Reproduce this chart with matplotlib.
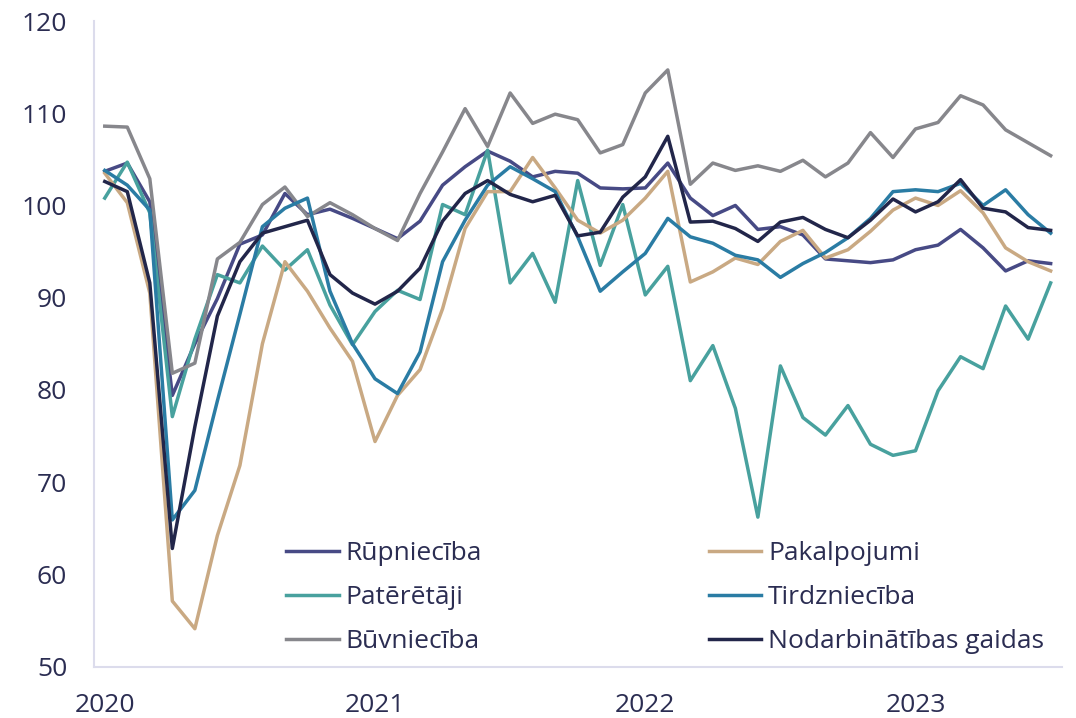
import numpy as np
import matplotlib.pyplot as plt

plt.rcParams['font.family'] = ['Open Sans', 'DejaVu Sans']

# monthly values, Jan 2020 - Jul 2023
rupnieciba = [103.7, 104.6, 100.4, 79.4, 85.0, 89.9, 95.8, 96.8, 101.3, 99.0,
              99.6, 98.6, 97.5, 96.4, 98.3, 102.2, 104.2, 105.9, 104.8, 103.1,
              103.7, 103.5, 101.9, 101.8, 101.9, 104.6, 100.8, 98.9, 100.0, 97.4,
              97.7, 96.8, 94.2, 94.0, 93.8, 94.1, 95.2, 95.7, 97.4, 95.4,
              92.9, 94.0, 93.7]
pakalpojumi = [103.5, 100.3, 90.5, 57.1, 54.1, 64.2, 71.8, 85.0, 93.9, 90.7,
               86.7, 83.1, 74.4, 79.4, 82.2, 88.8, 97.5, 101.5, 101.5, 105.2,
               101.9, 98.4, 97.0, 98.4, 100.8, 103.7, 91.7, 92.8, 94.3, 93.6,
               96.1, 97.3, 94.3, 95.2, 97.2, 99.5, 100.8, 100.0, 101.6, 99.2,
               95.4, 93.9, 92.9]
pateretaji = [100.8, 104.7, 99.2, 77.1, 85.5, 92.5, 91.6, 95.6, 93.0, 95.2,
              89.2, 84.9, 88.5, 90.8, 89.8, 100.1, 99.0, 106.0, 91.6, 94.8,
              89.5, 102.7, 93.5, 100.1, 90.3, 93.4, 81.0, 84.8, 78.0, 66.2,
              82.6, 77.0, 75.1, 78.3, 74.1, 72.9, 73.4, 79.9, 83.6, 82.3,
              89.1, 85.5, 91.6]
tirdznieciba = [103.8, 102.2, 99.5, 65.9, 69.1, 78.8, 88.2, 97.7, 99.7, 100.8,
                90.7, 85.0, 81.2, 79.6, 84.1, 93.9, 98.4, 102.2, 104.2, 102.9,
                101.5, 96.6, 90.7, 92.8, 94.8, 98.6, 96.6, 95.9, 94.6, 94.1,
                92.2, 93.7, 94.9, 96.5, 98.6, 101.5, 101.7, 101.5, 102.4, 100.0,
                101.7, 99.0, 97.0]
buvnieciba = [108.6, 108.5, 102.9, 81.8, 82.9, 94.2, 96.0, 100.1, 102.0, 98.8,
              100.3, 99.0, 97.5, 96.2, 101.3, 105.8, 110.5, 106.4, 112.2, 108.9,
              109.9, 109.3, 105.7, 106.6, 112.2, 114.7, 102.3, 104.6, 103.8, 104.3,
              103.7, 104.9, 103.1, 104.6, 107.9, 105.2, 108.3, 109.0, 111.9, 110.9,
              108.2, 106.8, 105.4]
nodarbinatiba = [102.6, 101.5, 91.6, 62.8, 76.0, 88.0, 93.9, 97.0, 97.7, 98.4,
                 92.5, 90.5, 89.3, 90.7, 93.2, 98.3, 101.3, 102.7, 101.2, 100.4,
                 101.1, 96.7, 97.1, 100.9, 103.1, 107.5, 98.2, 98.3, 97.5, 96.1,
                 98.2, 98.7, 97.4, 96.5, 98.4, 100.7, 99.3, 100.4, 102.8, 99.7,
                 99.3, 97.6, 97.3]

years = ['2020', '2021', '2022', '2023']

series = [
    ('Rūpniecība', rupnieciba, '#474a85'),
    ('Patērētāji', pateretaji, '#48a19e'),
    ('Būvniecība', buvnieciba, '#87878c'),
    ('Pakalpojumi', pakalpojumi, '#c9a983'),
    ('Tirdzniecība', tirdznieciba, '#2a7ca4'),
    ('Nodarbinātības gaidas', nodarbinatiba, '#22264a'),
]

txt = '#2b2d52'
spine_col = '#dcdcec'

fig = plt.figure(figsize=(10.76, 7.18), dpi=100)
ax = fig.add_axes([0.0869, 0.0717, 0.9, 0.899])

months = np.arange(len(rupnieciba))
for name, vals, col in series:
    ax.plot(months, vals, color=col, lw=2.5, label=name)

ax.set_xlim(-0.5, 42.5)
ax.set_ylim(50, 120)
ax.set_yticks(range(50, 121, 10))
ax.set_xticks(np.arange(len(years)) * 12)
ax.set_xticklabels(years)
ax.tick_params(length=0, labelsize=19, colors=txt)
ax.tick_params(axis='y', pad=19)
ax.tick_params(axis='x', pad=19)

for s in ['top', 'right']:
    ax.spines[s].set_visible(False)
for s in ['left', 'bottom']:
    ax.spines[s].set_color(spine_col)
    ax.spines[s].set_linewidth(1.5)

leg = fig.legend(loc='upper left', bbox_to_anchor=(286 / 1076, 1 - 541 / 718),
                 ncol=2, frameon=False, fontsize=19, handlelength=2.0,
                 handletextpad=0.25, columnspacing=8.6, labelspacing=0.72,
                 borderpad=0, borderaxespad=0)
for t in leg.get_texts():
    t.set_color(txt)

fig.savefig('out.png', dpi=100)
